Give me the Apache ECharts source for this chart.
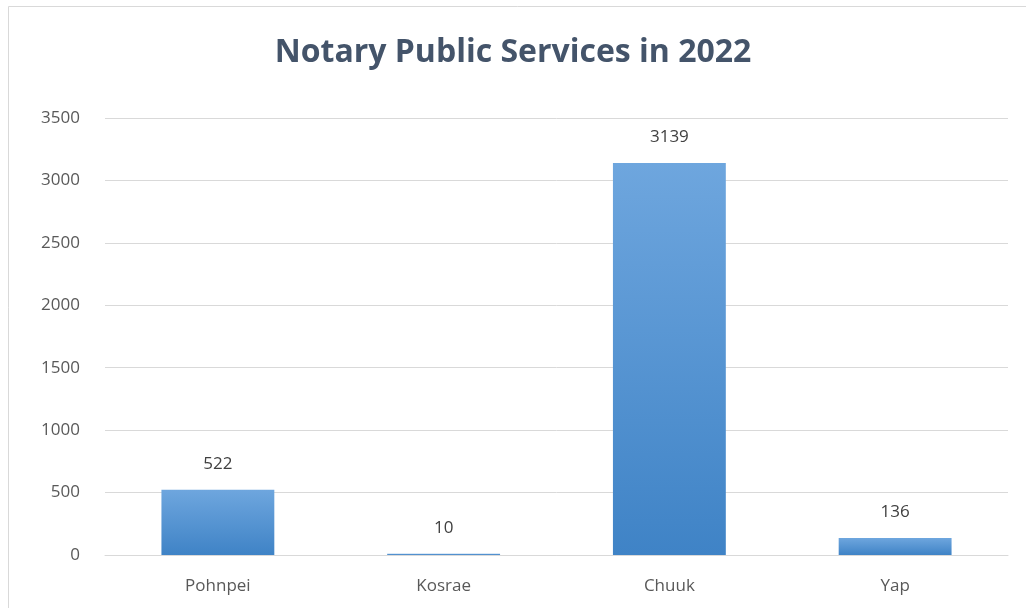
<!DOCTYPE html>
<html><head><meta charset="utf-8">
<script src="https://cdn.jsdelivr.net/npm/echarts@6/dist/echarts.min.js"></script>
<style>html,body{margin:0;padding:0;background:#fff}#c{width:1026px;height:608px}</style>
</head><body><div id="c"></div>
<script>
const categories = ["Pohnpei", "Kosrae", "Chuuk", "Yap"];
const values = [522, 10, 3139, 136];
const titleText = "Notary Public Services in 2022";

const chart = echarts.init(document.getElementById('c'), null, {renderer: 'canvas'});
chart.setOption({
  animation: false,
  backgroundColor: '#ffffff',
  title: {
    text: titleText, left: 'center', top: 32,
    textStyle: {fontFamily: 'Open Sans', fontWeight: 'bold', fontSize: 32, color: '#44546a'}
  },
  graphic: [{
    type: 'rect', shape: {x: 8.5, y: 6.5, width: 1030, height: 620},
    style: {fill: 'none', stroke: '#d9d9d9', lineWidth: 1}, silent: true
  }],
  grid: {left: 105, right: 18, top: 118, bottom: 53, containLabel: false},
  xAxis: {
    type: 'category', data: categories,
    axisLine: {show: true, lineStyle: {color: '#d9d9d9'}},
    axisTick: {show: false},
    axisLabel: {color: '#595959', fontSize: 17, fontFamily: 'Open Sans', margin: 23}
  },
  yAxis: {
    type: 'value', min: 0, max: 3500, interval: 500,
    axisLine: {show: false}, axisTick: {show: false},
    splitLine: {lineStyle: {color: '#d9d9d9'}},
    axisLabel: {color: '#595959', fontSize: 17, fontFamily: 'Open Sans', margin: 25,
      formatter: v => String(v)}
  },
  series: [{
    type: 'bar', data: values, barWidth: '50%',
    itemStyle: {
      color: new echarts.graphic.LinearGradient(0, 0, 0, 1, [
        {offset: 0, color: '#6ea6de'}, {offset: 1, color: '#3f83c6'}
      ])
    },
    label: {show: true, position: 'top', distance: 17, color: '#404040', fontSize: 17, fontFamily: 'Open Sans'}
  }]
});
</script></body></html>
